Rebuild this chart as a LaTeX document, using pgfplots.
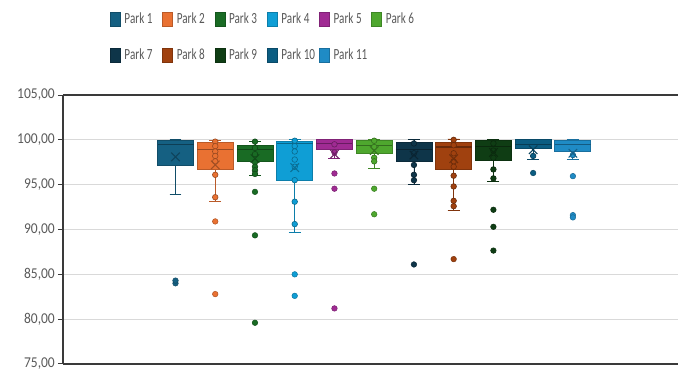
\documentclass[border=0pt]{standalone}
\usepackage{fontspec}
\setmainfont{Carlito}
\newfontfamily\narrowfont{Carlito}[FakeStretch=0.72]
\newfontfamily\tickfont{Carlito}[FakeStretch=0.9]
\usepackage{pgfplots}
\pgfplotsset{compat=1.18}
\usepgfplotslibrary{statistics}

\definecolor{p1}{HTML}{156082}
\definecolor{p2}{HTML}{E97132}
\definecolor{p3}{HTML}{196B24}
\definecolor{p4}{HTML}{0F9ED5}
\definecolor{p5}{HTML}{A02B93}
\definecolor{p6}{HTML}{4EA72E}
\definecolor{p7}{HTML}{0E3549}
\definecolor{p8}{HTML}{A0410F}
\definecolor{p9}{HTML}{0F3D14}
\definecolor{p10}{HTML}{0B5D82}
\definecolor{p11}{HTML}{1F8BC5}
\definecolor{txtgray}{HTML}{595959}
\definecolor{gridgray}{HTML}{D9D9D9}
\definecolor{axisgray}{HTML}{3A3A3A}

\pgfplotsset{
  park/.style={
    fill=#1, draw=#1!80!black, line width=0.8pt,
    mark=*, mark size=2.8pt,
    mark options={fill=#1, draw=#1!75!black, line width=0.5pt, solid},
    boxplot/every median/.style={draw=#1!65!black, line width=1.2pt},
    legend image code/.code={\filldraw[fill=#1, draw=#1!80!black, line width=0.5pt] (0pt,-7pt) rectangle (10pt,7pt);}
  },
  inner/.style={only marks, forget plot, mark=*, mark size=2.8pt,
    mark options={fill=#1, draw=#1!65!black, line width=0.6pt}},
  avg/.style={only marks, forget plot, mark=x, mark size=6pt,
    mark options={draw=#1!70!black, line width=1.1pt}},
}

\newcommand{\entry}[1]{\makebox[41.8pt][l]{\hspace{4pt}#1}}

\begin{document}
\begin{tikzpicture}
\begin{axis}[
  width=615pt, height=269pt, scale only axis,
  xmin=-1.831, xmax=13.645,
  ymin=75, ymax=105,
  ytick={75,80,...,105},
  xtick=\empty,
  axis x line*=bottom, axis y line*=left,
  axis line style={draw=axisgray, line width=1.6pt, -},
  y tick style={draw=axisgray, line width=1pt},
  major tick length=5pt, tick align=outside,
  ymajorgrids, grid style={draw=gridgray, line width=1.3pt},
  yticklabel style={inner sep=0pt, xshift=-3pt, text=txtgray, font=\tickfont\fontsize{15}{17}\selectfont},
  /pgf/number format/.cd, fixed, fixed zerofill, precision=2, use comma, assume math mode=true,
  /pgfplots/.cd,
  boxplot/draw direction=y,
  boxplot/box extend=0.906,
  boxplot/whisker extend=0.3,
  legend columns=6,
  legend style={at={(axis description cs:0,1)}, anchor=north west,
    xshift=47pt, yshift=83pt, draw=none, fill=none,
    inner sep=0pt, outer sep=0pt, row sep=21pt,
    nodes={inner sep=0pt, text=txtgray, font=\narrowfont\fontsize{15.5}{17}\selectfont},
    /tikz/every even column/.append style={column sep=0pt}},
  after end axis/.code={\draw[axisgray, line width=1.6pt] (rel axis cs:0,1) -- (rel axis cs:1,1);},
]

% Park 1
\addplot[park=p1, boxplot prepared={draw position=1, lower whisker=93.9, lower quartile=97.1, median=99.5, upper quartile=99.9, upper whisker=100.0}]
  table[row sep=\\, y index=0] {84.0\\84.3\\};
\addplot[avg=p1] coordinates {(1,98.1)};

% Park 2
\addplot[park=p2, boxplot prepared={draw position=2, lower whisker=93.1, lower quartile=96.65, median=98.95, upper quartile=99.75, upper whisker=99.9}]
  table[row sep=\\, y index=0] {90.9\\82.8\\};
\addplot[inner=p2] coordinates {(2,99.8) (2,99.3) (2,98.7) (2,98.2) (2,97.6) (2,96.1) (2,93.6)};
\addplot[avg=p2] coordinates {(2,97.2)};

% Park 3
\addplot[park=p3, boxplot prepared={draw position=3, lower whisker=96.05, lower quartile=97.6, median=98.9, upper quartile=99.4, upper whisker=99.8}]
  table[row sep=\\, y index=0] {94.2\\89.35\\79.6\\};
\addplot[inner=p3] coordinates {(3,99.8) (3,99.1) (3,98.4) (3,97.5) (3,97.0) (3,96.6) (3,96.2)};
\addplot[avg=p3] coordinates {(3,97.9)};

% Park 4
\addplot[park=p4, boxplot prepared={draw position=4, lower whisker=89.7, lower quartile=95.45, median=99.6, upper quartile=99.85, upper whisker=100.0}]
  table[row sep=\\, y index=0] {85.0\\82.6\\};
\addplot[inner=p4] coordinates {(4,99.9) (4,99.3) (4,98.7) (4,97.8) (4,97.0) (4,95.5) (4,93.1) (4,90.6)};
\addplot[avg=p4] coordinates {(4,96.9)};

% Park 5
\addplot[park=p5, boxplot prepared={draw position=5, lower whisker=97.95, lower quartile=98.9, median=99.6, upper quartile=100.0, upper whisker=100.0}]
  table[row sep=\\, y index=0] {96.25\\94.55\\81.2\\};
\addplot[inner=p5] coordinates {(5,99.5) (5,98.6)};
\addplot[avg=p5] coordinates {(5,98.4)};

% Park 6
\addplot[park=p6, boxplot prepared={draw position=6, lower whisker=96.8, lower quartile=98.5, median=99.4, upper quartile=99.9, upper whisker=100.0}]
  table[row sep=\\, y index=0] {94.55\\91.7\\};
\addplot[inner=p6] coordinates {(6,99.9) (6,99.2) (6,98.0) (6,97.6)};
\addplot[avg=p6] coordinates {(6,98.8)};

% Park 7
\addplot[park=p7, boxplot prepared={draw position=7, lower whisker=95.0, lower quartile=97.6, median=98.95, upper quartile=99.75, upper whisker=100.0}]
  table[row sep=\\, y index=0] {86.1\\};
\addplot[inner=p7] coordinates {(7,99.6) (7,98.5) (7,97.2) (7,96.1) (7,95.5)};
\addplot[avg=p7] coordinates {(7,98.3)};

% Park 8
\addplot[park=p8, boxplot prepared={draw position=8, lower whisker=92.1, lower quartile=96.65, median=99.2, upper quartile=99.75, upper whisker=100.1}]
  table[row sep=\\, y index=0] {86.7\\};
\addplot[inner=p8] coordinates {(8,100.0) (8,99.4) (8,98.5) (8,97.6) (8,97.0) (8,96.0) (8,94.8) (8,93.2) (8,92.6)};
\addplot[avg=p8] coordinates {(8,97.9)};

% Park 9
\addplot[park=p9, boxplot prepared={draw position=9, lower whisker=95.35, lower quartile=97.7, median=99.25, upper quartile=99.9, upper whisker=100.0}]
  table[row sep=\\, y index=0] {92.2\\90.3\\87.65\\};
\addplot[inner=p9] coordinates {(9,99.6) (9,98.8) (9,98.0) (9,96.7) (9,95.7)};
\addplot[avg=p9] coordinates {(9,98.6)};

% Park 10
\addplot[park=p10, boxplot prepared={draw position=10, lower whisker=97.85, lower quartile=99.0, median=99.5, upper quartile=100.0, upper whisker=100.0}]
  table[row sep=\\, y index=0] {96.3\\};
\addplot[inner=p10] coordinates {(10,98.2)};
\addplot[avg=p10] coordinates {(10,98.9)};

% Park 11
\addplot[park=p11, boxplot prepared={draw position=11, lower whisker=97.85, lower quartile=98.7, median=99.5, upper quartile=99.9, upper whisker=100.0}]
  table[row sep=\\, y index=0] {95.95\\91.6\\91.35\\};
\addplot[inner=p11] coordinates {(11,98.3)};
\addplot[avg=p11] coordinates {(11,98.5)};

\legend{\entry{Park 1},\entry{Park 2},\entry{Park 3},\entry{Park 4},\entry{Park 5},\entry{Park 6},
        \entry{Park 7},\entry{Park 8},\entry{Park 9},\entry{Park 10},\entry{Park 11}}
\end{axis}
\pgfresetboundingbox
\path[use as bounding box] (-63pt,-8pt) rectangle (615pt,364pt);
\end{tikzpicture}
\end{document}
